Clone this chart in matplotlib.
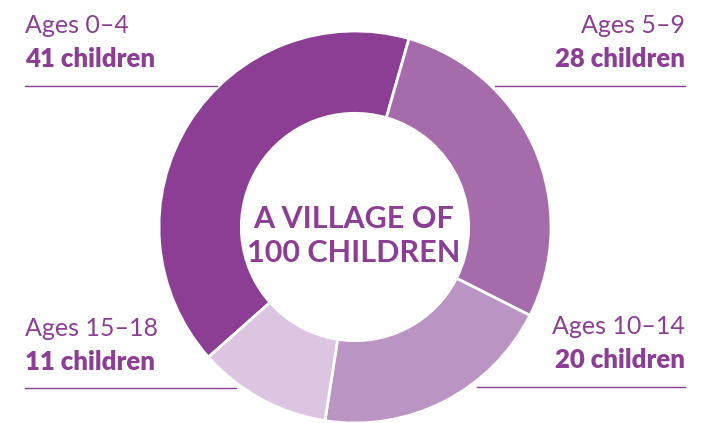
import matplotlib
matplotlib.use("Agg")
import matplotlib.pyplot as plt

# data
ages = ['Ages 0–4', 'Ages 5–9', 'Ages 10–14', 'Ages 15–18']
counts = [41, 28, 20, 11]
colors = ['#8C3E95', '#A56BAB', '#BA94C3', '#DBC5E1']
TXT = '#8C3E95'
H = 423

plt.rcParams['font.family'] = ['Lato', 'DejaVu Sans']

fig = plt.figure(figsize=(7.19, 4.23), dpi=100)
ax = fig.add_axes([0, 0, 1, 1])
ax.set_xlim(0, 719)
ax.set_ylim(0, H)
ax.set_aspect('equal')
ax.axis('off')

ax.pie(counts, colors=colors, center=(355, H - 227), radius=196,
       startangle=221.6, counterclock=False,
       wedgeprops=dict(width=196 * 0.42, edgecolor='white', linewidth=2))
ax.set_xlim(0, 719)
ax.set_ylim(0, H)

# labels: (x, baseline y of first line, ha, line segment)
spots = [(25, 33, 'left', (25, 217, 86)),
         (685, 33, 'right', (495, 685, 86)),
         (685, 334, 'right', (477, 685, 387)),
         (25, 336, 'left', (25, 236, 388))]
for (x, y, ha, seg), a, c in zip(spots, ages, counts):
    ax.text(x, H - y, a, ha=ha, va='baseline', fontsize=18, color=TXT)
    ax.text(x, H - y - 34, f'{c} children', ha=ha, va='baseline',
            fontsize=18.5, fontweight='heavy', color=TXT)
    ax.plot([seg[0], seg[1]], [H - seg[2]] * 2, color=TXT, lw=1)

ax.text(354, H - 228, 'A VILLAGE OF', ha='center', va='baseline',
        fontsize=22, fontweight='bold', color=TXT)
ax.text(354, H - 262, '100 CHILDREN', ha='center', va='baseline',
        fontsize=22, fontweight='bold', color=TXT)

fig.savefig('out.png', dpi=100)
